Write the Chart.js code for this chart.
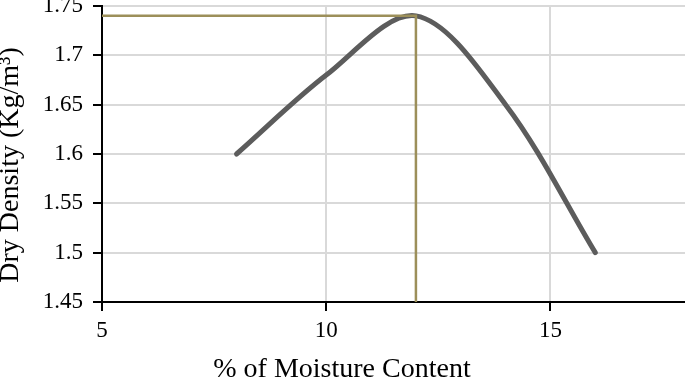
<!DOCTYPE html>
<html>
<head>
<meta charset="utf-8">
<script src="https://cdn.jsdelivr.net/npm/chart.js@4.4.1/dist/chart.umd.min.js"></script>
<style>
  html, body { margin: 0; padding: 0; background: #fff; }
  #wrap { width: 685px; height: 380px; }
</style>
</head>
<body>
<div id="wrap"><canvas id="wykres" width="685" height="380"></canvas></div>
<script>
// moisture content (%) vs dry density
var moisture = [8, 10, 12, 14, 16];
var density = [1.6, 1.68, 1.74, 1.65, 1.5];

// OMC / MDD guide line
var guideX = [5, 12, 12];
var guideY = [1.74, 1.74, 1.45];

var xTitle = "% of Moisture Content";
var yTitle = "Dry Density (Kg/m\u00B3)";

var krzywa = moisture.map(function(x, i) { return {x: x, y: density[i]}; });
var linia = guideX.map(function(x, i) { return {x: x, y: guideY[i]}; });

var serif = "'Liberation Serif', 'Times New Roman', serif";

// axis titles, placed like in the original figure
var tytuly = {
	id: 'tytuly',
	afterDraw: function(chart) {
		var c = chart.ctx;
		c.save();
		c.fillStyle = '#000';
		c.font = "28px " + serif;
		c.textAlign = 'center';
		c.textBaseline = 'middle';
		c.fillText(xTitle, 342, 370);
		c.translate(11, 165);
		c.rotate(-Math.PI / 2);
		c.fillText(yTitle, 0, 0);
		c.restore();
	}
};

var ctx = document.getElementById("wykres");
var wykres = new Chart(ctx, {
	type: 'line',
	data: {
		datasets: [
			{
				data: linia,
				borderColor: '#9c8f5a',
				borderWidth: 2.5,
				pointRadius: 0,
				tension: 0,
				order: 0
			},
			{
				data: krzywa,
				borderColor: '#5c5c5c',
				borderWidth: 5,
				borderCapStyle: 'round',
				pointRadius: 0,
				tension: 0.33,
				order: 1
			}
		]
	},
	options: {
		responsive: false,
		animation: false,
		plugins: { legend: { display: false }, tooltip: { enabled: false } },
		layout: { padding: 0 },
		scales: {
			x: {
				type: 'linear',
				min: 5,
				max: 18,
				afterFit: function(s) { s.height = 78; s.paddingRight = 0; },
				ticks: {
					stepSize: 5,
					includeBounds: false,
					padding: 6,
					color: '#000',
					font: { family: serif, size: 23 }
				},
				grid: {
					color: '#d9d9d9',
					lineWidth: 2,
					tickLength: 9,
					tickColor: '#000',
					tickWidth: 2
				},
				border: { color: '#000', width: 2 }
			},
			y: {
				min: 1.45,
				max: 1.75,
				afterFit: function(s) { s.width = 102; s.paddingTop = 6; s.paddingBottom = 0; },
				ticks: {
					stepSize: 0.05,
					padding: 10,
					color: '#000',
					font: { family: serif, size: 23 },
					callback: function(v) { return String(parseFloat(v.toFixed(2))); }
				},
				grid: {
					color: '#d9d9d9',
					lineWidth: 2,
					tickLength: 9,
					tickColor: '#000',
					tickWidth: 2
				},
				border: { color: '#000', width: 2 }
			}
		}
	},
	plugins: [tytuly]
});
</script>
</body>
</html>
